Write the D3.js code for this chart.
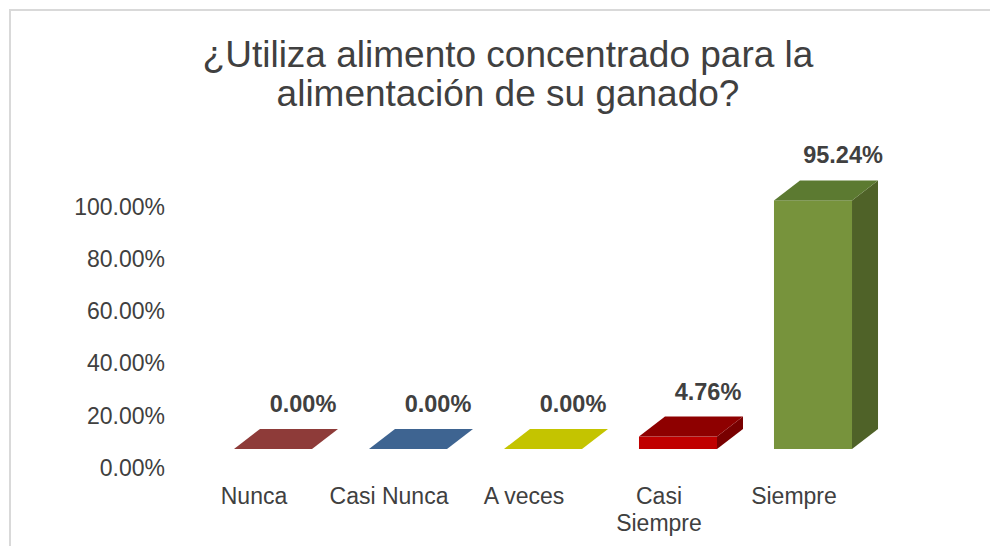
<!DOCTYPE html>
<html>
<head>
<meta charset="utf-8">
<script src="https://cdn.jsdelivr.net/npm/d3@7"></script>
<style>
  html, body { margin: 0; padding: 0; background: #ffffff; }
  svg { display: block; font-family: "Liberation Sans", Arial, sans-serif; }
</style>
</head>
<body>
<svg id="chart" width="990" height="546"></svg>
<script>
// ---- data ----
const titleLines = ["¿Utiliza alimento concentrado para la", "alimentación de su ganado?"];
const categories = ["Nunca", "Casi Nunca", "A veces", "Casi Siempre", "Siempre"];
const values = [0, 0, 0, 4.76, 95.24];
const yTicks = [0, 20, 40, 60, 80, 100];

// ---- styles ----
const frontColors = ["#8E3B39", "#3E6491", "#C4C400", "#C00000", "#77933C"];
const topColors   = ["#8E3B39", "#3E6491", "#C4C400", "#8E0000", "#5C7A31"];
const sideColors  = ["#7A3231", "#34557B", "#A6A600", "#780000", "#4F6228"];
const textColor = "#404040";

const svg = d3.select("#chart");

// border (top & left)
svg.append("line").attr("x1", 9).attr("x2", 990).attr("y1", 10).attr("y2", 10)
  .attr("stroke", "#D9D9D9").attr("stroke-width", 2);
svg.append("line").attr("x1", 10).attr("x2", 10).attr("y1", 9).attr("y2", 546)
  .attr("stroke", "#D9D9D9").attr("stroke-width", 2);

// title
svg.append("text")
  .attr("x", 508).attr("y", 67)
  .attr("text-anchor", "middle")
  .attr("font-size", 37)
  .attr("fill", textColor)
  .selectAll("tspan").data(titleLines).join("tspan")
  .attr("x", 508)
  .attr("dy", (d, i) => i === 0 ? 0 : 39)
  .text(d => d);

// scales
const x = d3.scaleBand().domain(categories).range([205.5, 880.5])
  .paddingInner(0.422).paddingOuter(0.211);
const y = d3.scaleLinear().domain([0, 100]).range([449, 188]);
const depthX = 26, depthY = -20;
const axisShift = 19;

// y axis labels
const yAxisScale = y.copy().range(y.range().map(v => v + axisShift));
const yAxis = d3.axisLeft(yAxisScale).tickValues(yTicks)
  .tickSize(0).tickPadding(0)
  .tickFormat(d => d.toFixed(2) + "%");
const ga = svg.append("g").attr("transform", "translate(165,0)").call(yAxis);
ga.select(".domain").remove();
ga.selectAll("text").attr("font-size", 23).attr("fill", textColor)
  .attr("font-family", "'Liberation Sans', Arial, sans-serif");

// bars
const data = categories.map((c, i) => ({ c, v: values[i], i }));
const bars = svg.append("g").selectAll("g").data(data).join("g");

bars.each(function(d) {
  const g = d3.select(this);
  const x0 = x(d.c), x1 = x0 + x.bandwidth();
  const yb = y(0), yt = y(d.v);
  const h = yb - yt;
  if (h > 0.5) {
    // front
    g.append("rect").attr("x", x0).attr("y", yt).attr("width", x1 - x0).attr("height", h)
      .attr("fill", frontColors[d.i]);
    // side
    g.append("path")
      .attr("d", `M${x1},${yt}L${x1 + depthX},${yt + depthY}L${x1 + depthX},${yb + depthY}L${x1},${yb}Z`)
      .attr("fill", sideColors[d.i]);
    // top
    g.append("path")
      .attr("d", `M${x0},${yt}L${x0 + depthX},${yt + depthY}L${x1 + depthX},${yt + depthY}L${x1},${yt}Z`)
      .attr("fill", topColors[d.i]);
  } else {
    g.append("path")
      .attr("d", `M${x0},${yt}L${x0 + depthX},${yt + depthY}L${x1 + depthX},${yt + depthY}L${x1},${yt}Z`)
      .attr("fill", frontColors[d.i]);
  }
  // value label
  g.append("text")
    .attr("x", x0 + x.bandwidth() / 2 + depthX + 4)
    .attr("y", yt + depthY - 17)
    .attr("text-anchor", "middle")
    .attr("font-size", 23.5)
    .attr("font-weight", "bold")
    .attr("fill", textColor)
    .text(d.v.toFixed(2) + "%");
});

// category labels (wrapped)
const labelG = svg.append("g");
const maxW = x.step() - 4;
data.forEach(d => {
  const cx = x(d.c) + x.bandwidth() / 2 - 19;
  const t = labelG.append("text")
    .attr("x", cx).attr("y", 504)
    .attr("text-anchor", "middle")
    .attr("font-size", 23)
    .attr("fill", textColor);
  const words = d.c.split(" ");
  let line = [];
  let ts = t.append("tspan").attr("x", cx).attr("dy", 0);
  let lineNo = 0;
  words.forEach(w => {
    line.push(w);
    ts.text(line.join(" "));
    if (ts.node().getComputedTextLength() > maxW && line.length > 1) {
      line.pop();
      ts.text(line.join(" "));
      line = [w];
      lineNo++;
      ts = t.append("tspan").attr("x", cx).attr("dy", 27).text(w);
    }
  });
});
</script>
</body>
</html>
